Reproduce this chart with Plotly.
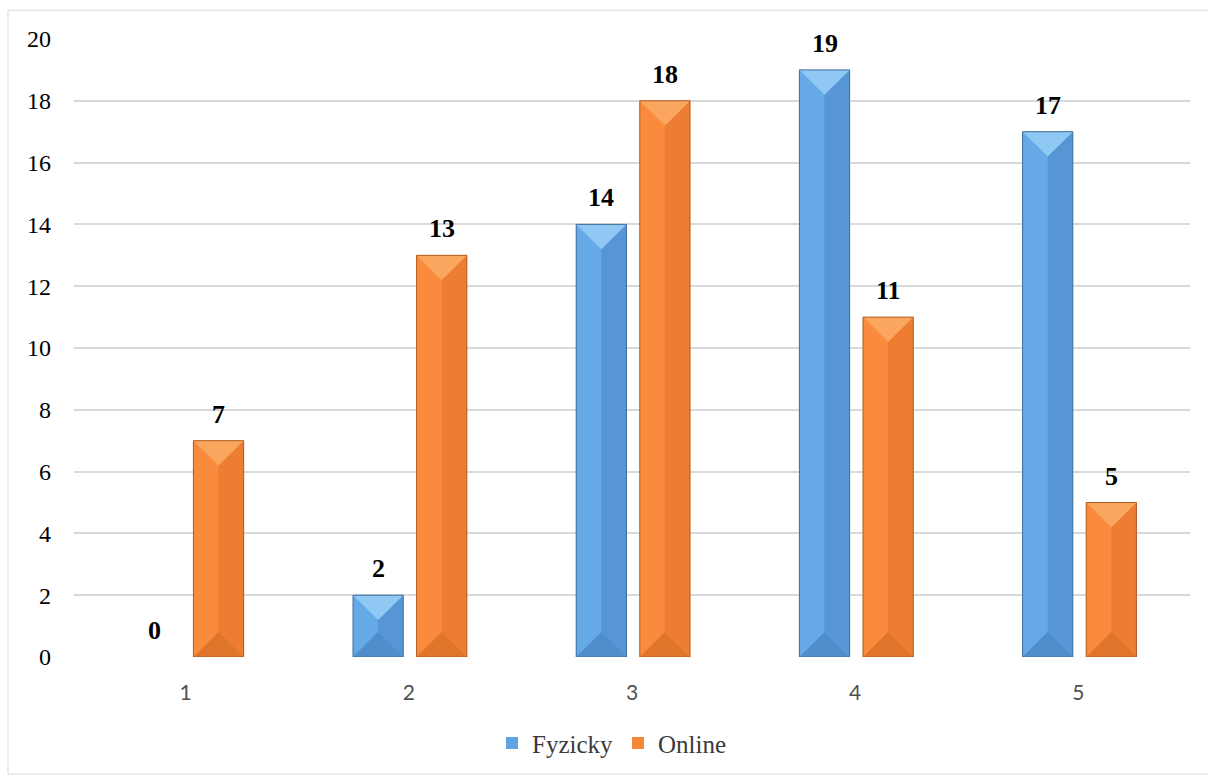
import plotly.graph_objects as go

# Categories (ratings) and counts per series
categories = [1, 2, 3, 4, 5]
fyzicky = [0, 2, 14, 19, 17]
online = [7, 13, 18, 11, 5]
y_ticks = [0, 2, 4, 6, 8, 10, 12, 14, 16, 18, 20]

W, H = 1208, 778
M_L, M_R, M_T, M_B = 74, 18, 39, 116
PLOT_W = W - M_L - M_R
PLOT_H = H - M_T - M_B
X_RANGE = (0.5, 5.5)
Y_RANGE = (0, 20)
PX_X = PLOT_W / (X_RANGE[1] - X_RANGE[0])
PX_Y = PLOT_H / (Y_RANGE[1] - Y_RANGE[0])

BAR_W = 0.225
series = [
    dict(name="Fyzicky", values=fyzicky, offset=-0.25,
         base="#5fa3e2", top="#8fc8f3", left="#65aae7", right="#5796d4",
         bottom="#4f8dcb", edge="#3f6f9c"),
    dict(name="Online", values=online, offset=0.035,
         base="#f5863a", top="#fba65f", left="#fa8b3c", right="#ec7d32",
         bottom="#df742b", edge="#b15a1f"),
]

fig = go.Figure()


def facets(xs, vals, off):
    """Bevel facets for each bar, in data coordinates."""
    half = BAR_W / 2
    depth_full = half * PX_X / PX_Y
    out = {"top": ([], []), "bottom": ([], []), "left": ([], []),
           "right": ([], []), "edge": ([], [])}
    for x, v in zip(xs, vals):
        if v <= 0:
            continue
        x0 = x + off
        x1 = x0 + BAR_W
        xc = x0 + half
        d = min(depth_full, v / 2)
        polys = {
            "top": [(x0, v), (x1, v), (xc, v - d)],
            "bottom": [(x0, 0), (x1, 0), (xc, d)],
            "left": [(x0, v), (xc, v - d), (xc, d), (x0, 0)],
            "right": [(x1, v), (xc, v - d), (xc, d), (x1, 0)],
            "edge": [(x0, 0), (x0, v), (x1, v), (x1, 0), (x0, 0)],
        }
        for k, pts in polys.items():
            px, py = out[k]
            if k != "edge":
                pts = pts + [pts[0]]
            px.extend([p[0] for p in pts] + [None])
            py.extend([p[1] for p in pts] + [None])
    return out


for s in series:
    fig.add_trace(go.Bar(
        x=categories, y=s["values"], name=s["name"],
        offset=s["offset"], width=BAR_W,
        marker=dict(color=s["base"], line=dict(color=s["edge"], width=0)),
        hoverinfo="x+y+name",
    ))

for s in series:
    f = facets(categories, s["values"], s["offset"])
    for key in ["left", "right", "top", "bottom"]:
        xs, ys = f[key]
        fig.add_trace(go.Scatter(
            x=xs, y=ys, mode="lines", fill="toself",
            fillcolor=s[key], line=dict(width=0, color=s[key]),
            showlegend=False, hoverinfo="skip",
        ))
    xs, ys = f["edge"]
    fig.add_trace(go.Scatter(
        x=xs, y=ys, mode="lines",
        line=dict(width=1, color=s["edge"]),
        showlegend=False, hoverinfo="skip",
    ))

# Value labels above each bar
for s in series:
    for x, v in zip(categories, s["values"]):
        fig.add_annotation(
            x=x + s["offset"] + BAR_W / 2, y=v, xref="x", yref="y",
            text=f"<b>{v}</b>", showarrow=False, yanchor="bottom", yshift=10,
            font=dict(family="Liberation Serif", size=26, color="#000000"),
        )

# Chart frame
fig.add_shape(
    type="rect", xref="paper", yref="paper",
    x0=(8 - M_L) / PLOT_W, x1=(W + 2 - M_L) / PLOT_W,
    y0=-(H + 2 - (H - M_B)) / PLOT_H, y1=1 + (M_T - 10) / PLOT_H,
    line=dict(color="#d9d9d9", width=1), fillcolor="rgba(0,0,0,0)", layer="below",
)

fig.update_layout(
    width=W, height=H,
    margin=dict(l=M_L, r=M_R, t=M_T, b=M_B),
    paper_bgcolor="white", plot_bgcolor="white",
    barmode="overlay",
    showlegend=True,
    legend=dict(
        orientation="h", x=(612 - M_L) / PLOT_W, xanchor="center",
        y=-(749 - (H - M_B)) / PLOT_H, yanchor="middle",
        font=dict(family="Liberation Serif", size=25, color="#3a3a3a"),
        itemwidth=30, tracegroupgap=0,
    ),
    xaxis=dict(
        range=list(X_RANGE), tickmode="array", tickvals=categories,
        ticktext=[str(c) for c in categories],
        showgrid=False, zeroline=False, showline=False,
        ticks="", ticklabelstandoff=21,
        tickfont=dict(family="Lato", size=21, color="#505050"),
    ),
    yaxis=dict(
        range=list(Y_RANGE), tickmode="array", tickvals=y_ticks,
        showgrid=True, gridcolor="#d9d9d9", gridwidth=1.5,
        zeroline=False, showline=False, ticks="", ticklabelstandoff=22,
        tickfont=dict(family="Liberation Serif", size=24, color="#000000"),
    ),
)

fig.write_html("out.html")
